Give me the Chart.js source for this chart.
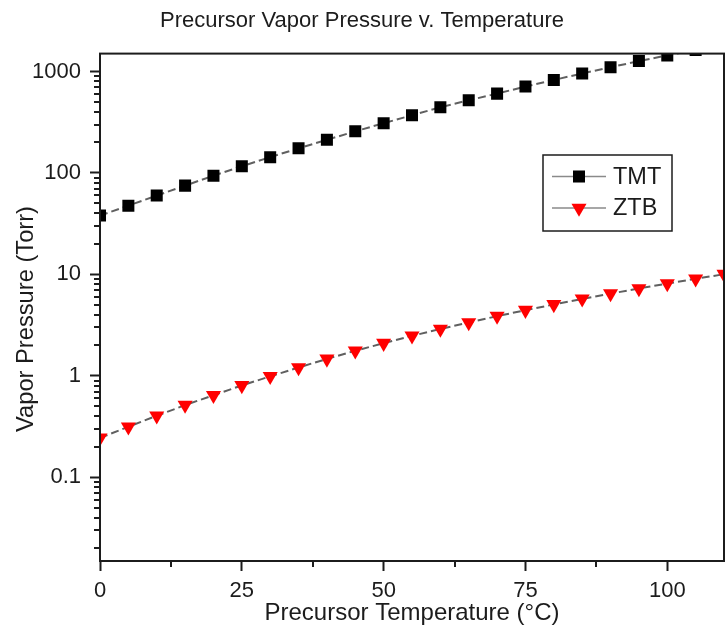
<!DOCTYPE html>
<html>
<head>
<meta charset="utf-8">
<script src="https://cdn.jsdelivr.net/npm/chart.js@4.4.1/dist/chart.umd.min.js"></script>
<style>
  html, body { margin: 0; padding: 0; background: #fff; overflow: hidden; }
  canvas { display: block; }
</style>
</head>
<body>
<canvas id="chart" width="725" height="632"></canvas>
<script>
// temperatures in °C
const temps = [0, 5, 10, 15, 20, 25, 30, 35, 40, 45, 50, 55, 60, 65, 70, 75, 80, 85, 90, 95, 100, 105, 110];
// vapor pressures in Torr
const tmtTorr = [38, 47.6, 59.8, 75, 94, 116.5, 143, 175, 212, 257, 309, 370, 444, 520, 605, 710, 825, 955, 1100, 1265, 1440, 1630];
const ztbTorr = [0.245, 0.315, 0.405, 0.515, 0.645, 0.805, 0.99, 1.21, 1.47, 1.77, 2.10, 2.48, 2.90, 3.36, 3.88, 4.44, 5.06, 5.74, 6.47, 7.27, 8.13, 9.06, 10.05];
const seriesNames = ['TMT', 'ZTB'];
const xTickValues = [0, 25, 50, 75, 100];
const xMinorTicks = [12.5, 37.5, 62.5, 87.5];
const yTickValues = [0.1, 1, 10, 100, 1000];
const yTickLabels = ['0.1', '1', '10', '100', '1000'];

const FONT = "'Liberation Sans', Arial, sans-serif";
const INK = '#1c1c1c';
Chart.defaults.font.family = FONT;

const toPoints = (vals) => vals.map((v, i) => ({ x: temps[i], y: v }));

// minor ticks on log axis: 2..9 times each decade
const yMinorTicks = [];
for (let d = -2; d <= 3; d++) {
  for (let m = 2; m <= 9; m++) yMinorTicks.push(m * Math.pow(10, d));
}

const framePlugin = {
  id: 'frame',
  afterDraw(chart) {
    const { ctx, chartArea: a, scales } = chart;
    ctx.save();
    ctx.strokeStyle = INK;
    ctx.lineWidth = 2;
    ctx.strokeRect(a.left, a.top, a.right - a.left, a.bottom - a.top);

    // minor ticks
    ctx.beginPath();
    yMinorTicks.forEach(v => {
      if (v < scales.y.min || v > scales.y.max) return;
      const py = Math.round(scales.y.getPixelForValue(v));
      ctx.moveTo(a.left - 6, py);
      ctx.lineTo(a.left, py);
    });
    xMinorTicks.forEach(v => {
      const px = Math.round(scales.x.getPixelForValue(v));
      ctx.moveTo(px, a.bottom);
      ctx.lineTo(px, a.bottom + 6);
    });
    ctx.stroke();

    // y axis title, placed like the original (a bit below plot centre)
    ctx.fillStyle = INK;
    ctx.font = '23.7px ' + FONT;
    ctx.textAlign = 'center';
    ctx.textBaseline = 'middle';
    ctx.translate(26, 319);
    ctx.rotate(-Math.PI / 2);
    ctx.fillText('Vapor Pressure (Torr)', 0, 0);
    ctx.restore();

    // legend box
    const box = { left: 543, top: 155, width: 129, height: 76 };
    ctx.save();
    ctx.fillStyle = '#fff';
    ctx.fillRect(box.left, box.top, box.width, box.height);
    ctx.strokeStyle = INK;
    ctx.lineWidth = 1.5;
    ctx.strokeRect(box.left, box.top, box.width, box.height);
    chart.data.datasets.forEach((ds, i) => {
      const ry = box.top + 21.5 + i * 31.5;
      ctx.strokeStyle = '#8a8a8a';
      ctx.lineWidth = 1.5;
      ctx.setLineDash([]);
      ctx.beginPath();
      ctx.moveTo(box.left + 9, ry);
      ctx.lineTo(box.left + 63, ry);
      ctx.stroke();
      ctx.fillStyle = ds.pointBackgroundColor;
      Chart.helpers.drawPoint(ctx, {
        pointStyle: ds.pointStyle, rotation: ds.pointRotation || 0,
        radius: ds.pointRadius, borderWidth: 0
      }, box.left + 36, ry);
      ctx.fillStyle = INK;
      ctx.font = '23.5px ' + FONT;
      ctx.textAlign = 'left';
      ctx.textBaseline = 'middle';
      ctx.fillText(ds.label, box.left + 70, ry + 1);
    });
    ctx.restore();
  }
};

new Chart(document.getElementById('chart'), {
  type: 'line',
  data: {
    datasets: [
      {
        label: seriesNames[0],
        data: toPoints(tmtTorr),
        borderColor: '#606060',
        borderWidth: 2,
        borderDash: [8, 4],
        pointStyle: 'rect',
        pointRadius: 8.5,
        pointBackgroundColor: '#000',
        pointBorderWidth: 0,
        tension: 0,
        clip: 0
      },
      {
        label: seriesNames[1],
        data: toPoints(ztbTorr),
        borderColor: '#606060',
        borderWidth: 2,
        borderDash: [8, 4],
        pointStyle: 'triangle',
        pointRotation: 180,
        pointRadius: 8.7,
        pointBackgroundColor: '#ff0000',
        pointBorderWidth: 0,
        tension: 0,
        clip: 0
      }
    ]
  },
  options: {
    responsive: false,
    animation: false,
    layout: { autoPadding: false, padding: { left: 0, right: 1, top: 0, bottom: 0 } },
    plugins: {
      legend: { display: false },
      tooltip: { enabled: false },
      title: {
        display: true,
        text: 'Precursor Vapor Pressure v. Temperature',
        color: INK,
        font: { size: 22, weight: 'normal' },
        padding: { top: 7.8, bottom: 19.4 }
      }
    },
    scales: {
      x: {
        type: 'linear',
        min: 0,
        max: 110,
        afterBuildTicks: s => { s.ticks = xTickValues.map(v => ({ value: v })); },
        afterFit: s => { s.height = 71; s.paddingLeft = 0; s.paddingRight = 0; },
        grid: { drawOnChartArea: false, drawTicks: true, tickLength: 10, tickWidth: 2, tickColor: INK },
        border: { display: true, color: INK, width: 2 },
        ticks: { color: INK, font: { size: 22 }, padding: 7, maxRotation: 0, autoSkip: false },
        title: {
          display: true,
          text: 'Precursor Temperature (°C)',
          color: INK,
          font: { size: 24 },
          padding: { top: 0, bottom: 4.6 }
        }
      },
      y: {
        type: 'logarithmic',
        min: 0.015,
        max: 1500,
        afterBuildTicks: s => { s.ticks = yTickValues.map(v => ({ value: v })); },
        afterFit: s => { s.width = 100; s.paddingTop = 0; s.paddingBottom = 0; },
        grid: { drawOnChartArea: false, drawTicks: true, tickLength: 10, tickWidth: 2, tickColor: INK },
        border: { display: true, color: INK, width: 2 },
        ticks: {
          color: INK,
          font: { size: 22 },
          padding: 9,
          autoSkip: false,
          callback: (v, i) => yTickLabels[i]
        }
      }
    }
  },
  plugins: [framePlugin]
});
</script>
</body>
</html>
